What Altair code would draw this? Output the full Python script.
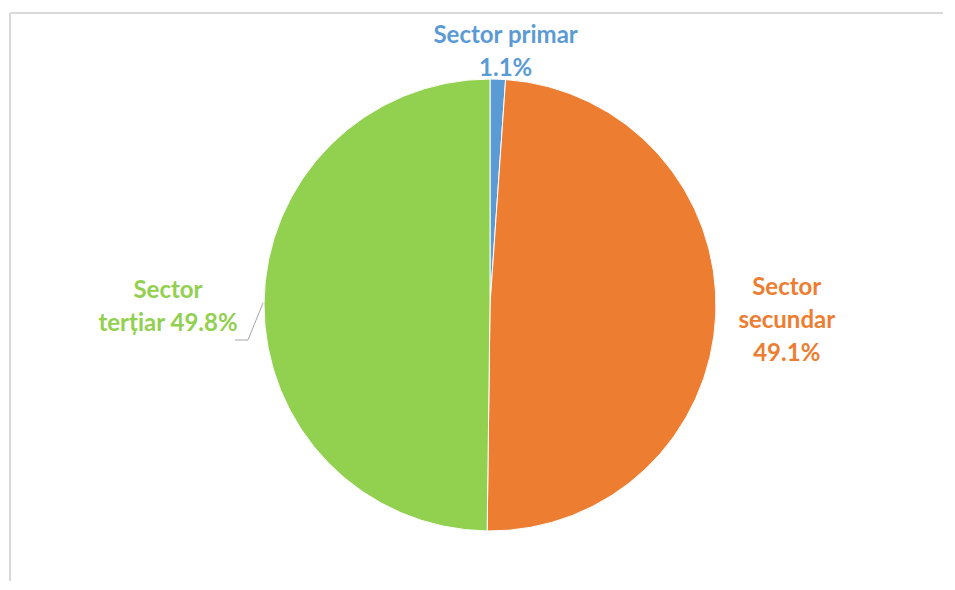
import altair as alt
import pandas as pd

categories = ["Sector primar", "Sector secundar", "Sector terțiar"]
shares = [1.1, 49.1, 49.8]
label_text = ["Sector primar\n1.1%", "Sector\nsecundar\n49.1%", "Sector\nterțiar 49.8%"]
colors = ["#5B9BD5", "#ED7D31", "#92D050"]

df = pd.DataFrame({
    "cat": categories,
    "share": shares,
    "idx": [0, 1, 2],
    "label": label_text,
})

CX, CY, R = 482, 297, 226
FONT = "Lato"

color = alt.Color("cat:N", scale=alt.Scale(domain=categories, range=colors), legend=None)
base = alt.Chart(df).encode(
    theta=alt.Theta("share:Q", stack=True),
    order=alt.Order("idx:Q"),
)

pie = base.mark_arc(outerRadius=R, stroke="white", strokeWidth=1).encode(
    color=color, x=alt.value(CX), y=alt.value(CY)
)


def label_layer(i, r, dx, dy):
    return base.transform_calculate(
        t=f"datum.idx == {i} ? datum.label : ''"
    ).mark_text(
        radius=r, dx=dx, dy=dy, align="center", baseline="middle", lineBreak="\n",
        font=FONT, fontWeight="bold", fontSize=24, lineHeight=33,
    ).encode(text="t:N", color=color, x=alt.value(CX), y=alt.value(CY))


lab_p = label_layer(0, 250, 7, -19)
lab_s = label_layer(1, 297, 0, -29)
lab_t = label_layer(2, 322, 0, -12)

one = pd.DataFrame({"k": [0]})
leader1 = alt.Chart(one).mark_rule(color="#a6a6a6", strokeWidth=1).encode(
    x=alt.value(227), x2=alt.value(240), y=alt.value(332), y2=alt.value(332)
)
leader2 = alt.Chart(one).mark_rule(color="#a6a6a6", strokeWidth=1).encode(
    x=alt.value(240), x2=alt.value(255), y=alt.value(332), y2=alt.value(295)
)
frame_top = alt.Chart(one).mark_rule(color="#d9d9d9", strokeWidth=2).encode(
    x=alt.value(2), x2=alt.value(940), y=alt.value(5), y2=alt.value(5)
)
frame_left = alt.Chart(one).mark_rule(color="#d9d9d9", strokeWidth=2).encode(
    x=alt.value(2), x2=alt.value(2), y=alt.value(5), y2=alt.value(580)
)

chart = alt.layer(
    frame_top, frame_left, pie, leader1, leader2, lab_p, lab_s, lab_t
).properties(
    width=935, height=573, padding=0,
    autosize=alt.AutoSizeParams(type="none"),
).configure_view(stroke=None)

chart.save("out.html", embed_options={"renderer": "svg", "actions": False})
